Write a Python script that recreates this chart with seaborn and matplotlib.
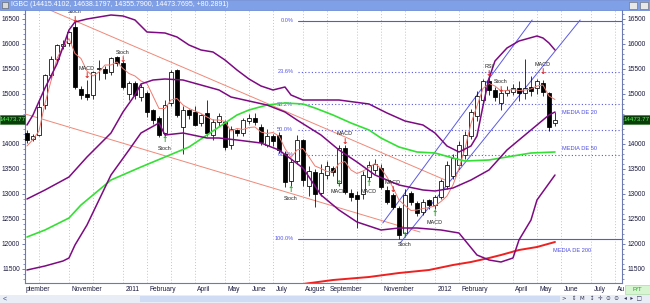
import numpy as np
import pandas as pd
import matplotlib
matplotlib.use("Agg")
import matplotlib.pyplot as plt
import matplotlib.dates as mdates
from matplotlib.patches import Rectangle
from matplotlib.transforms import ScaledTranslation
from matplotlib.ticker import MultipleLocator, FixedLocator
import seaborn as sns

# ---------------- data (weekly bars, Fridays) ----------------
first_week = "2010-09-17"
title_text = "IGBC (14415.4102, 14638.1797, 14355.7900, 14473.7695, +80.2891)"
last_price_label = "14473.77"
last_price = 14473.77

opens = [14210,14090,14170,14770,15370,15700,15950,16010,16330,15090,
         14990,14970,15500,15490,15430,15730,15610,14990,15210,14930,
         15010,14670,14510,14210,14810,15470,14330,14670,14630,14410,
         14610,14170,14430,14430,13970,14270,14210,14450,14510,14330,
         13970,14150,14170,13790,13250,13650,14070,13150,13430,13010,
         13370,13510,13210,13910,13010,12970,12990,13330,13470,13510,
         13070,12970,12710,12210,13010,12810,12630,12870,12770,12930,
         13150,13350,13570,13770,14150,14550,14870,15250,15070,14810,
         15010,15030,15110,15010,15130,15110,15210,15010,14415]
highs = [14270,14200,14850,15400,15750,16000,16080,16260,16450,15150,
         15270,15450,15670,15550,15730,15750,15650,15250,15250,15200,
         15050,14700,14550,14870,15470,15500,14750,14700,14750,14600,
         14870,14500,14620,14470,14350,14300,14520,14600,14620,14400,
         14300,14200,14230,13850,13700,14170,14100,13550,13500,13600,
         13650,13550,13970,13970,13100,13050,13450,13650,13700,13600,
         13150,13010,12750,13100,13050,12850,12900,12900,12970,13300,
         13650,13800,14050,14250,14700,15050,15300,15330,15130,15100,
         15150,15200,15250,15700,15350,15300,15270,15030,14638]
lows = [14010,14050,14150,14700,15300,15650,15900,15950,15100,14900,
        14870,14900,15270,15300,15380,15550,15100,14870,14900,14850,
        14530,14400,14130,14150,14750,14530,13800,14500,14350,14350,
        14150,14070,14350,13870,13900,14150,14150,14400,14380,13980,
        13930,13950,13810,13130,13150,13600,13150,12950,12730,12950,
        13300,13350,13150,12990,12850,12310,12900,13270,13400,13100,
        12800,12690,12100,12150,12780,12550,12570,12700,12700,12900,
        13100,13300,13500,13700,14100,14450,14800,14970,14850,14670,
        14950,14970,14850,14900,14950,15000,14950,14250,14356]
closes = [14070,14150,14730,15370,15700,15970,16000,16230,15130,14970,
          14930,15430,15510,15410,15710,15620,15130,15210,14970,15130,
          14630,14470,14170,14770,15430,14570,14670,14570,14370,14570,
          14210,14430,14550,13930,14290,14210,14470,14510,14430,14030,
          14150,14050,13870,13230,13630,14070,13270,13450,12990,13410,
          13550,13430,13910,13030,12930,12890,13370,13570,13590,13130,
          12830,12730,12170,12970,12830,12610,12830,12770,12930,13250,
          13570,13710,13970,14170,14630,14950,15250,15070,14930,15010,
          15070,15110,15010,15110,15050,15250,15030,14330,14474]

# short moving average (thin red), one value per bar
short_ma = [13950,14080,14250,14800,15250,15700,15930,16100,15800,15700,
            15450,15350,15430,15570,15570,15630,15500,15400,15350,15250,
            15200,14950,14700,14700,14870,14900,14770,14700,14650,14600,
            14530,14470,14470,14440,14250,14300,14280,14320,14330,14230,
            14200,14220,14150,13900,13720,13870,13900,13730,13550,13500,
            13440,13430,13600,13640,13470,13400,13450,13520,13600,13500,
            13330,13120,12870,12760,12660,12670,12700,12720,12750,12840,
            12950,13170,13500,13900,14400,14750,15100,15200,15150,15050,
            15060,15080,15060,15070,15090,15150,15170,14950,14880]

# Bollinger bands (purple), read at selected weeks
up_weeks = [0,1,3,5,7,8,10,14,16,18,20,23,25,27,29,31,33,35,37,39,41,43,44,46,52,
            57,60,63,66,68,70,72,74,75,76,77,78,80,82,85,86,87,88]
up_vals = [14370,14570,15110,15590,16270,16430,16490,16570,16550,16470,16230,16210,
           16130,15970,15870,15830,15670,15470,15290,15150,15070,15130,14970,14870,
           14870,14790,14610,14450,14370,14210,13950,13830,13950,14150,14750,15300,
           15650,15910,16050,16150,16110,16010,15870]
mid_weeks = [0,3,7,10,14,16,18,19,21,23,26,29,32,34,37,40,43,45,49,52,55,58,62,66,68,
             71,74,77,80,84,87,88]
mid_vals = [12890,13070,13330,13730,14210,14630,14970,15190,15270,15290,15270,15170,
            15070,14930,14850,14770,14630,14470,14170,13870,13630,13370,13170,13070,
            13050,13110,13270,13470,13870,14270,14570,14630]
low_weeks = [0,3,6,7,8,10,12,14,17,19,22,23,26,30,32,35,39,42,46,49,52,55,59,62,65,
             69,72,75,77,79,81,82,84,85,88]
low_vals = [11470,11550,11650,11710,11970,12370,12870,13370,13870,14210,14410,14170,
            14210,14110,14110,14070,14010,13870,13510,12970,12670,12430,12270,12310,
            12310,12270,12210,11770,11670,11630,11710,12070,12470,12870,13370]

# 50-week (green) and 200-week (red) averages
ma50_weeks = [0,3,7,9,14,19,23,27,30,32,35,37,40,43,46,48,51,54,57,59,62,65,68,71,73,
              77,80,84,88]
ma50_vals = [12130,12270,12510,12770,13270,13530,13730,13930,14170,14330,14570,14670,
             14770,14810,14790,14710,14570,14410,14270,14110,13930,13830,13810,13710,
             13650,13670,13730,13810,13830]
ma200_weeks = [46,51,57,62,67,71,74,77,79,82,85,88]
ma200_vals = [11190,11270,11330,11410,11470,11570,11630,11710,11770,11870,11930,12030]

# hand-drawn trend lines: (start week, end week, start price, end price)
red_tl_w0 = [3.8, -0.3]
red_tl_w1 = [69.7, 65.5]
red_tl_p0 = [16670, 14590]
red_tl_p1 = [13270, 12230]
blue_tl_w0 = [59.3, 62.2]
blue_tl_w1 = [84.2, 92.2]
blue_tl_p0 = [12410, 12010]
blue_tl_p1 = [16470, 16470]

# Fibonacci retracement
fib_labels = ["0.0%", "23.6%", "38.2%", "50.0%", "61.8%", "100.0%"]
fib_prices = [16456, 15436, 14790, 14280, 13770, 12096]
fib_solid = [True, False, False, False, False, True]
fib_start_week = 45.2

# average labels
media_labels = ["MEDIA DE 20", "MEDIA DE 50", "MEDIA DE 200"]
media_weeks = [89.2, 89.2, 87.7]
media_prices = [14610, 13910, 11850]

# indicator signals
sig_weeks = [8, 10, 16, 23, 44, 52, 53, 57, 61, 63, 68, 77, 79, 86]
sig_prices = [16490, 15350, 15670, 14070, 13070, 13210, 14050, 13210, 13070, 12150,
              12590, 15390, 15090, 15430]
sig_names = ["Stoch", "MACD", "Stoch", "Stoch", "Stoch", "MACD", "MACD", "MACD",
             "MACD", "Stoch", "MACD", "RSI", "Stoch", "MACD"]
sig_dirs = ["sell", "sell", "sell", "buy", "buy", "buy", "sell", "buy", "sell", "buy",
            "buy", "sell", "sell", "sell"]

# axes (the 14500 label is hidden behind the last-price box, as in the reference)
y_ticks = [11500, 12000, 12500, 13000, 13500, 14000, 14500, 15000, 15500, 16000, 16500]
y_tick_labels = ["11500", "12000", "12500", "13000", "13500", "14000", "",
                 "15000", "15500", "16000", "16500"]
y_range = (11210, 16670)
week_range = (-0.33, 99.17)
month_labels = ["", "November", "", "2011", "February", "", "April", "May", "June",
                "July", "August", "September", "", "November", "", "2012", "February",
                "", "April", "May", "June", "July", "Au"]

# ---------------- drawing ----------------
sns.set_theme(style="white")
plt.rcParams["font.family"] = ["Liberation Sans", "DejaVu Sans"]

W, H = 650, 303
fig = plt.figure(figsize=(W / 100, H / 100), dpi=100)
fig.patch.set_facecolor("white")
L, R, T, B = 25, 622, 10, 283
ax = fig.add_axes([L / W, 1 - B / H, (R - L) / W, (B - T) / H])
ax.set_facecolor("white")

t0 = pd.Timestamp(first_week)


def wk(w):
    return mdates.date2num(t0 + pd.Timedelta(days=7 * w))


n = len(closes)
bx = np.array([wk(i) for i in range(n)])
o, h, l, c = map(np.array, (opens, highs, lows, closes))

PURPLE = "#7d0a82"
BLUE = "#5555e6"

# fib lines
xr = wk(week_range[1])
for lab, p, solid in zip(fib_labels, fib_prices, fib_solid):
    ax.plot([wk(fib_start_week), xr], [p, p], color=BLUE, lw=0.8,
            ls="-" if solid else (0, (1, 2)), zorder=2)
    ax.text(wk(44.4), p, lab, ha="right", va="center", color=BLUE, fontsize=4.1, zorder=2)

# candles
ax.vlines(bx, l, h, color="black", lw=0.55, zorder=4)
upb = c >= o
bot = np.minimum(o, c)
hgt = np.maximum(np.abs(c - o), 14)
ax.bar(bx[upb], hgt[upb], bottom=bot[upb], width=4.6, color="white",
       edgecolor="black", linewidth=0.55, zorder=5)
ax.bar(bx[~upb], hgt[~upb], bottom=bot[~upb], width=4.6, color="black",
       edgecolor="black", linewidth=0.55, zorder=5)


def line(weeks, vals, color, lw, z, ls="-"):
    sns.lineplot(x=[wk(w) for w in weeks], y=vals, ax=ax, color=color, linewidth=lw,
                 estimator=None, sort=False, zorder=z, linestyle=ls, legend=False)


# trend lines
for a, b2, p0, p1 in zip(red_tl_w0, red_tl_w1, red_tl_p0, red_tl_p1):
    line([a, b2], [p0, p1], "#f08878", 0.7, 3)
for a, b2, p0, p1 in zip(blue_tl_w0, blue_tl_w1, blue_tl_p0, blue_tl_p1):
    line([a, b2], [p0, p1], "#5a5ae8", 0.7, 3)

line(list(range(n)), short_ma, "#f07a70", 0.7, 6)
line(ma50_weeks, ma50_vals, "#33e033", 1.2, 6)
line(ma200_weeks, ma200_vals, "#ee2020", 1.4, 6)
line(up_weeks, up_vals, PURPLE, 1.1, 7)
line(mid_weeks, mid_vals, PURPLE, 1.1, 7)
line(low_weeks, low_vals, PURPLE, 1.1, 7)

for lab, w, p in zip(media_labels, media_weeks, media_prices):
    ax.text(wk(w), p, lab, color="#4a4ae0", fontsize=4.1, ha="left", va="center", zorder=8)

# signals
for w, p, name, d in zip(sig_weeks, sig_prices, sig_names, sig_dirs):
    if d == "sell":
        ax.text(wk(w), p, "\u2193", color="#dd1f1f", fontsize=5.5, fontweight="bold",
                ha="center", va="center", family="DejaVu Sans", zorder=9)
        ax.annotate(name, (wk(w), p), xytext=(0, 5.2), textcoords="offset points",
                    ha="center", va="center", fontsize=3.9, color="#222222", zorder=9,
                    annotation_clip=False)
    else:
        ax.text(wk(w), p, "\u2191", color="#1fae1f", fontsize=5.5, fontweight="bold",
                ha="center", va="center", family="DejaVu Sans", zorder=9)
        ax.annotate(name, (wk(w), p), xytext=(0, -6), textcoords="offset points",
                    ha="center", va="center", fontsize=3.9, color="#222222", zorder=9)

# axes limits / ticks
ax.set_xlim(wk(week_range[0]), wk(week_range[1]))
ax.set_ylim(*y_range)

all_weeks = [t0 + pd.Timedelta(days=7 * i) for i in range(100)]
month_starts = [d for prev, d in zip(all_weeks[:-1], all_weeks[1:]) if d.month != prev.month]
ax.set_xticks([mdates.date2num(d) for d in month_starts])
ax.set_xticklabels(month_labels[:len(month_starts)])
ax.xaxis.set_minor_locator(FixedLocator([wk(i) for i in range(100)]))
ax.tick_params(axis="x", which="major", direction="out", length=7, width=0.6,
               color="#333333", pad=-4.6, labelsize=4.8, labelcolor="#1a1a40")
ax.tick_params(axis="x", which="minor", direction="in", length=2.2, width=0.5,
               color="#333333")
off = ScaledTranslation(1.8 / 72, 0, fig.dpi_scale_trans)
for lbl in ax.get_xticklabels():
    lbl.set_horizontalalignment("left")
    lbl.set_transform(lbl.get_transform() + off)

ax.set_yticks(y_ticks)
ax.set_yticklabels(y_tick_labels)
ax.yaxis.set_minor_locator(MultipleLocator(100))
ax.tick_params(axis="y", which="both", left=True, right=True, labelleft=True,
               labelright=True, direction="out", color="#5a68a8", labelsize=4.8,
               labelcolor="#1a1a40", pad=1.2)
ax.tick_params(axis="y", which="major", length=2.5, width=0.6)
ax.tick_params(axis="y", which="minor", length=1.3, width=0.5)

ax.grid(axis="x", which="major", color="#c4c4c4", ls=(0, (1, 2)), lw=0.7)
ax.grid(axis="y", visible=False)
ax.set_axisbelow(True)
for s in ("left", "right", "bottom"):
    ax.spines[s].set_color("#6c7ab0")
    ax.spines[s].set_linewidth(0.8)
ax.spines["top"].set_visible(False)
ax.set_xlabel("")
ax.set_ylabel("")

# window chrome: title bar, price boxes, scrollbar
fig.add_artist(Rectangle((0, 1 - 10 / H), 1, 10 / H, transform=fig.transFigure,
                         facecolor="#7f9fe6", edgecolor="#5f7fcf", lw=0.5, zorder=20))
fig.add_artist(Rectangle((2 / W, 1 - 8 / H), 6 / W, 6 / H, transform=fig.transFigure,
                         facecolor="#d8d8d8", edgecolor="#555555", lw=0.4, zorder=21))
fig.text(11 / W, 1 - 5 / H, title_text, color="white", fontsize=5.0, va="center",
         ha="left", zorder=22)
for xb in (629, 640):
    fig.add_artist(Rectangle((xb / W, 1 - 9 / H), 8 / W, 7 / H, transform=fig.transFigure,
                             facecolor="#e8e8e8", edgecolor="#666666", lw=0.4, zorder=21))

ypix = 283 - (last_price - y_range[0]) / (y_range[1] - y_range[0]) * (283 - 10)
for x0, wbox in ((0, 25), (623, 27)):
    fig.add_artist(Rectangle((x0 / W, 1 - (ypix + 4.5) / H), wbox / W, 9 / H,
                             transform=fig.transFigure, facecolor="#0a3d0a",
                             edgecolor="#2a7a2a", lw=0.4, zorder=21))
    fig.text((x0 + wbox / 2) / W, 1 - ypix / H, last_price_label, color="#4dff4d",
             fontsize=4.4, ha="center", va="center", zorder=22)

fig.text(26 / W, 1 - 289.5 / H, "ptember", fontsize=4.8, color="#1a1a40",
         ha="left", va="center")
fig.add_artist(Rectangle((0, 0), 1, 8 / H, transform=fig.transFigure,
                         facecolor="#e9edf5", edgecolor="none", zorder=20))
fig.add_artist(Rectangle((140 / W, 1 / H), 420 / W, 6 / H, transform=fig.transFigure,
                         facecolor="#cfdcf3", edgecolor="none", zorder=21))
fig.text(3 / W, 4 / H, "<", fontsize=5, color="#334488", va="center", zorder=22)
fig.text(562 / W, 4 / H, ">   \u21d5  M   \u2195  \u271b  \u2299  \u2299   \u25c2  \u25b8  \u25a1",
         fontsize=4, color="#333355", va="center", family=["DejaVu Sans"], zorder=22)
fig.add_artist(Rectangle((625 / W, 9 / H), 25 / W, 9 / H, transform=fig.transFigure,
                         facecolor="#d6f5d0", edgecolor="#9ad19a", lw=0.4, zorder=21))
fig.text(637 / W, 13.5 / H, "P/T", fontsize=4.4, color="#2a9a2a", ha="center",
         va="center", zorder=22)

fig.savefig("out.png", dpi=100)
